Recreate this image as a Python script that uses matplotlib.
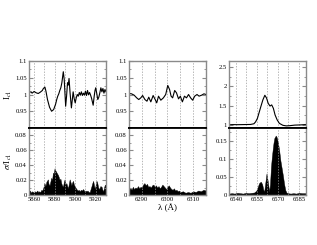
import matplotlib
matplotlib.use("Agg")
import matplotlib.pyplot as plt
from matplotlib.ticker import MultipleLocator, FuncFormatter

plt.rcParams['font.family'] = ['Liberation Serif', 'DejaVu Serif']
plt.rcParams['mathtext.fontset'] = 'stix'

# ---- window 1 : 5855-5930 A ----
wl1_top = [5855, 5857, 5858, 5860, 5862, 5864, 5866, 5868, 5869, 5870.5, 5871.5, 5873,
           5875, 5877, 5879, 5881, 5882, 5883, 5884, 5885, 5886, 5887, 5888.4, 5889.3,
           5890.7, 5891.6, 5892.5, 5893.2, 5894, 5895, 5896.3, 5897.2, 5898, 5899, 5900,
           5901, 5902, 5903, 5904, 5905, 5906, 5907, 5908, 5909, 5910, 5911, 5912, 5913,
           5914, 5915, 5916, 5917.5, 5918.5, 5919.3, 5920, 5921, 5922, 5923, 5924, 5925,
           5926, 5927, 5928, 5929, 5930]
ic1_top = [1.006, 1.008, 1.004, 1.009, 1.005, 1.003, 1.007, 1.012, 1.018, 1.022, 1.010, 0.985,
           0.962, 0.950, 0.955, 0.972, 0.985, 0.995, 1.002, 1.012, 1.020, 1.035, 1.068, 1.045,
           0.965, 0.995, 1.035, 1.028, 1.048, 1.005, 0.960, 0.985, 1.008, 0.988, 0.975,
           0.990, 1.000, 0.995, 1.006, 0.998, 1.008, 0.997, 1.004, 0.998, 1.010, 0.997, 1.012,
           0.999, 1.006, 0.998, 0.988, 0.968, 0.995, 1.012, 1.020, 1.003, 0.985, 0.992, 1.005,
           1.020, 1.008, 1.018, 1.004, 1.015, 1.008]
wl1_bot = [5855, 5856, 5857, 5858, 5859, 5860, 5861, 5862, 5863, 5864, 5865, 5866, 5867,
           5868, 5869, 5870, 5871, 5872, 5873.4, 5874, 5875, 5876, 5876.6, 5877.5, 5878.3,
           5879, 5879.9, 5880.7, 5881.5, 5882.3, 5883.2, 5884, 5884.8, 5885.6, 5886.4,
           5887.2, 5888.1, 5889, 5889.7, 5890.5, 5891.4, 5892.2, 5893, 5893.8, 5894.6,
           5895.5, 5896.3, 5897.1, 5897.9, 5898.7, 5899.5, 5900.3, 5901.2, 5902.5, 5903.5,
           5904.4, 5905.5, 5906.5, 5907.7, 5909, 5910, 5911, 5912, 5913, 5914.2, 5915,
           5915.9, 5916.7, 5917.5, 5918.3, 5919.1, 5920, 5920.7, 5921.4, 5922.4, 5923.4,
           5924.5, 5925.7, 5926.5, 5927.3, 5928.1, 5928.9, 5930]
sig1_bot = [0.004, 0.006, 0.003, 0.005, 0.004, 0.003, 0.005, 0.004, 0.006, 0.004, 0.005, 0.004, 0.007,
            0.006, 0.010, 0.016, 0.012, 0.018, 0.021, 0.015, 0.013, 0.019, 0.023, 0.020, 0.030,
            0.028, 0.036, 0.033, 0.031, 0.029, 0.027, 0.024, 0.020, 0.022, 0.016,
            0.013, 0.011, 0.018, 0.021, 0.014, 0.016, 0.012, 0.009, 0.015, 0.021,
            0.017, 0.013, 0.017, 0.019, 0.014, 0.012, 0.010, 0.008, 0.006, 0.007,
            0.005, 0.007, 0.006, 0.008, 0.005, 0.006, 0.005, 0.006, 0.004, 0.004, 0.008,
            0.012, 0.016, 0.019, 0.013, 0.008, 0.014, 0.019, 0.017, 0.010, 0.008,
            0.012, 0.011, 0.007, 0.005, 0.010, 0.014, 0.012]

# ---- window 2 : 6285-6315 A ----
wl2_top = [6285, 6286, 6287, 6288, 6288.8, 6289.6, 6290.3, 6291.2, 6292.0, 6292.7, 6293.5,
           6294.4, 6295.2, 6295.8, 6296.5, 6297.4, 6298.4, 6299.3, 6300.1, 6300.8, 6301.4,
           6302.0, 6302.8, 6303.5, 6304.3, 6305.0, 6305.8, 6306.6, 6307.4, 6308.2, 6309.0,
           6309.8, 6310.6, 6311.5, 6312.3, 6313.3, 6314.2, 6315]
ic1_2 = [1.003, 1.002, 0.998, 0.990, 0.985, 0.990, 0.997, 0.985, 0.980, 0.992, 0.978,
         0.997, 0.985, 0.975, 0.995, 0.983, 0.990, 1.000, 1.027, 1.015, 0.995,
         0.990, 1.012, 1.005, 0.987, 0.995, 0.978, 0.995, 0.990, 1.000, 0.990,
         0.983, 0.995, 1.000, 0.995, 0.998, 1.002, 1.000]
wl2_bot = [6285, 6285.5, 6286, 6286.5, 6287, 6287.5, 6288, 6288.5, 6289, 6289.5, 6290, 6290.5,
           6291, 6291.5, 6292, 6292.5, 6293, 6293.5, 6294, 6294.5, 6295, 6295.5, 6296, 6296.5,
           6297, 6297.5, 6298, 6298.5, 6299, 6299.5, 6300, 6300.5, 6301, 6301.5, 6302, 6302.5,
           6303, 6303.5, 6304, 6304.5, 6305, 6306, 6307, 6308, 6309, 6310, 6311, 6312, 6313,
           6314, 6315]
sig2_bot = [0.006, 0.010, 0.007, 0.011, 0.008, 0.010, 0.009, 0.012, 0.009, 0.011, 0.010, 0.014,
            0.016, 0.013, 0.015, 0.011, 0.012, 0.010, 0.013, 0.014, 0.011, 0.013, 0.010, 0.012,
            0.009, 0.011, 0.014, 0.012, 0.010, 0.008, 0.011, 0.013, 0.010, 0.008, 0.007, 0.009,
            0.006, 0.007, 0.005, 0.006, 0.004, 0.005, 0.003, 0.004, 0.003, 0.005, 0.004, 0.006,
            0.005, 0.007, 0.006]

# ---- window 3 : H-alpha ----
wl3_top = [6535, 6538, 6541, 6544, 6547, 6550.4, 6552.8, 6554, 6555.3, 6556.5, 6557.7,
           6559.2, 6560.6, 6561.8, 6563, 6564.3, 6565.5, 6566.7, 6567.9, 6569.4, 6571,
           6573.5, 6575.9, 6578.3, 6582, 6586, 6590]
ic1_3 = [1.005, 1.008, 1.006, 1.008, 1.010, 1.012, 1.030, 1.080, 1.170, 1.320, 1.470,
         1.650, 1.770, 1.700, 1.560, 1.490, 1.520, 1.430, 1.260, 1.130, 1.040,
         0.990, 0.975, 0.980, 0.995, 1.000, 1.010]
wl3_bot = [6535, 6537, 6539, 6541, 6543, 6545, 6547, 6549, 6551, 6553, 6554.5, 6555.5,
           6556.5, 6557.7, 6558.7, 6559.5, 6560.1, 6560.8, 6561.8, 6562.8, 6563.7, 6564.3,
           6565, 6565.6, 6566.2, 6566.8, 6567.4, 6568.4, 6569.1, 6569.9, 6570.8, 6571.7,
           6572.6, 6573.5, 6574.4, 6575.2, 6576, 6577, 6579, 6581, 6583, 6585, 6587, 6590]
sig3_bot = [0.004, 0.005, 0.004, 0.006, 0.005, 0.004, 0.006, 0.005, 0.006, 0.007, 0.012, 0.022,
            0.033, 0.037, 0.030, 0.015, 0.009, 0.030, 0.060, 0.035, 0.009, 0.030,
            0.079, 0.105, 0.126, 0.145, 0.158, 0.165, 0.160, 0.147, 0.125, 0.096,
            0.075, 0.054, 0.030, 0.014, 0.007, 0.005, 0.004, 0.005, 0.004, 0.006, 0.005, 0.005]

panels = [
    (wl1_top, ic1_top, wl1_bot, sig1_bot, (5855, 5930), 20, 10, (0.9, 1.1), 0.05, (0, 0.09), 0.02),
    (wl2_top, ic1_2, wl2_bot, sig2_bot, (6285, 6315), 10, 5, (0.9, 1.1), 0.05, (0, 0.09), 0.02),
    (wl3_top, ic1_3, wl3_bot, sig3_bot, (6535, 6590), 15, 7.5, (0.92, 2.66), 0.5, (0, 0.186), 0.05),
]
lefts = [29 / 317, 129 / 317, 229 / 317]
width = 77 / 317
h = 67 / 245
frame = '#8a8a8a'


def tick_fmt(lo):
    return FuncFormatter(lambda v, p: '' if v < lo + 1e-6 and lo > 0 else '%g' % round(v, 4))


fig = plt.figure(figsize=(3.17, 2.45), dpi=100)

for i, (xt, yt, xb, yb, xl, xmaj, xmin, ylt, ymt, ylb, ymb) in enumerate(panels):
    at = fig.add_axes([lefts[i], 1 - 128 / 245, width, h])
    ab = fig.add_axes([lefts[i], 1 - 195 / 245, width, h])
    at.plot(xt, yt, color='black', lw=0.8)
    ab.fill_between(xb, 0, yb, color='black', lw=0.3)
    for ax, yl, ym in ((at, ylt, ymt), (ab, ylb, ymb)):
        ax.set_xlim(xl)
        ax.set_ylim(yl)
        ax.xaxis.set_major_locator(MultipleLocator(xmaj))
        ax.xaxis.set_minor_locator(MultipleLocator(xmin))
        ax.yaxis.set_major_locator(MultipleLocator(ym))
        ax.yaxis.set_minor_locator(MultipleLocator(ym / 2))
        ax.yaxis.set_major_formatter(tick_fmt(yl[0]))
        ax.grid(True, which='both', axis='x', color='#999999', ls=(0, (2, 2)), lw=0.5)
        ax.tick_params(which='both', direction='in', left=True, right=True, top=False,
                       bottom=False, labelsize=4.8, pad=1.5, color=frame)
        ax.tick_params(which='major', length=3)
        ax.tick_params(which='minor', length=1.5)
        for s in ax.spines.values():
            s.set_color(frame)
            s.set_linewidth(1.0)
    at.tick_params(labelbottom=False)
    at.spines['bottom'].set_color('black')
    at.spines['bottom'].set_linewidth(1.3)
    ab.spines['top'].set_color('black')
    ab.spines['top'].set_linewidth(1.3)
    if i == 0:
        at.set_ylabel(r'I$_{c1}$', fontsize=6.5, labelpad=1)
        ab.set_ylabel(r'$\sigma$/I$_{c1}$', fontsize=6.5, labelpad=1)
    if i == 1:
        ab.set_xlabel('λ (Å)', fontsize=6.5, labelpad=1)

fig.savefig('out.png', dpi=100)
